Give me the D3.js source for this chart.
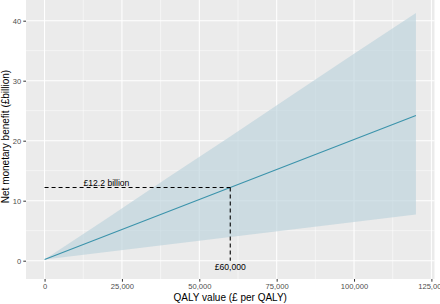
<!DOCTYPE html>
<html>
<head>
<meta charset="utf-8">
<script src="https://cdn.jsdelivr.net/npm/d3@7"></script>
<style>
  body { margin: 0; background: #fff; }
  svg { display: block; font-family: "Liberation Sans", Arial, sans-serif; }
</style>
</head>
<body>
<svg id="chart" width="440" height="304"></svg>
<script>
// QALY value (£ per QALY) against net monetary benefit (£ billion)
var qaly   = [0, 20000, 40000, 60000, 80000, 100000, 120000]
var nmb    = [0.2, 4.2, 8.2, 12.2, 16.2, 20.2, 24.2]
var nmbLo  = [0.2, 1.45, 2.7, 3.95, 5.2, 6.45, 7.7]
var nmbHi  = [0.2, 7.0, 13.9, 20.7, 27.6, 34.5, 41.3]

var xTicks = [0, 25000, 50000, 75000, 100000, 125000]
var yTicks = [0, 10, 20, 30, 40]

var markX = 60000, markY = 12.2
var labelBillion = '£12.2 billion', labelQaly = '£60,000'

var svg = d3.select('#chart')
var panel = {left: 26, right: 434.5, top: 0, bottom: 279}

var x = d3.scaleLinear().domain([-6000, 126000]).range([panel.left, panel.right])
var y = d3.scaleLinear().domain([-3.05, 43.45]).range([panel.bottom, panel.top])

var rows = qaly.map(function(q, i) { return {q: q, m: nmb[i], lo: nmbLo[i], hi: nmbHi[i]} })

// panel + grid
svg.append('rect')
	.attr('x', panel.left).attr('y', panel.top)
	.attr('width', panel.right - panel.left).attr('height', panel.bottom - panel.top)
	.attr('fill', '#ebebeb')

var xMinor = xTicks.slice(0, -1).map(function(t) { return t + 12500 })
var yMinor = [5, 15, 25, 35]

var g = svg.append('g')
g.selectAll('.xminor').data(xMinor).enter().append('line')
	.attr('x1', x).attr('x2', x).attr('y1', panel.top).attr('y2', panel.bottom)
	.attr('stroke', '#fff').attr('stroke-width', 0.5)
g.selectAll('.yminor').data(yMinor).enter().append('line')
	.attr('y1', y).attr('y2', y).attr('x1', panel.left).attr('x2', panel.right)
	.attr('stroke', '#fff').attr('stroke-width', 0.5)
g.selectAll('.xmajor').data(xTicks).enter().append('line')
	.attr('x1', x).attr('x2', x).attr('y1', panel.top).attr('y2', panel.bottom)
	.attr('stroke', '#fff').attr('stroke-width', 1.05)
g.selectAll('.ymajor').data(yTicks).enter().append('line')
	.attr('y1', y).attr('y2', y).attr('x1', panel.left).attr('x2', panel.right)
	.attr('stroke', '#fff').attr('stroke-width', 1.05)

// ribbon + line
svg.append('path')
	.datum(rows)
	.attr('fill', '#bcd3dc').attr('fill-opacity', 0.65)
	.attr('d', d3.area().x(function(d) { return x(d.q) }).y0(function(d) { return y(d.lo) }).y1(function(d) { return y(d.hi) }))

svg.append('path')
	.datum(rows)
	.attr('fill', 'none').attr('stroke', '#3b93ab').attr('stroke-width', 1.1)
	.attr('d', d3.line().x(function(d) { return x(d.q) }).y(function(d) { return y(d.m) }))

// dashed markers
svg.append('line')
	.attr('x1', x(0)).attr('x2', x(markX)).attr('y1', y(markY)).attr('y2', y(markY))
	.attr('stroke', '#000').attr('stroke-width', 1.1).attr('stroke-dasharray', '4,3')
svg.append('line')
	.attr('x1', x(markX)).attr('x2', x(markX)).attr('y1', y(markY)).attr('y2', y(0))
	.attr('stroke', '#000').attr('stroke-width', 1.1).attr('stroke-dasharray', '4,3')

svg.append('text')
	.attr('x', x(20000)).attr('y', y(13.0)).attr('dy', '0.35em')
	.attr('text-anchor', 'middle').attr('font-size', 8.6).attr('fill', '#000')
	.text(labelBillion)
svg.append('text')
	.attr('x', x(markX)).attr('y', y(-1)).attr('dy', '0.35em')
	.attr('text-anchor', 'middle').attr('font-size', 8.6).attr('fill', '#000')
	.text(labelQaly)

// axes
var xAxis = svg.append('g')
	.attr('transform', 'translate(0,' + panel.bottom + ')')
	.call(d3.axisBottom(x).tickValues(xTicks).tickSize(2.7).tickPadding(2).tickFormat(d3.format(',')))
var yAxis = svg.append('g')
	.attr('transform', 'translate(' + panel.left + ',0)')
	.call(d3.axisLeft(y).tickValues(yTicks).tickSize(2.7).tickPadding(2.2))

;[xAxis, yAxis].forEach(function(a) {
	a.select('.domain').remove()
	a.selectAll('line').attr('stroke', '#333')
	a.selectAll('text').attr('fill', '#4d4d4d').attr('font-size', 7.6).attr('font-family', null)
})

svg.append('text')
	.attr('x', x(60000)).attr('y', 300.5)
	.attr('text-anchor', 'middle').attr('font-size', 10).attr('fill', '#000')
	.text('QALY value (£ per QALY)')
svg.append('text')
	.attr('transform', 'translate(9,136.5) rotate(-90)')
	.attr('text-anchor', 'middle').attr('font-size', 10).attr('fill', '#000')
	.text('Net monetary benefit (£billion)')
</script>
</body>
</html>
